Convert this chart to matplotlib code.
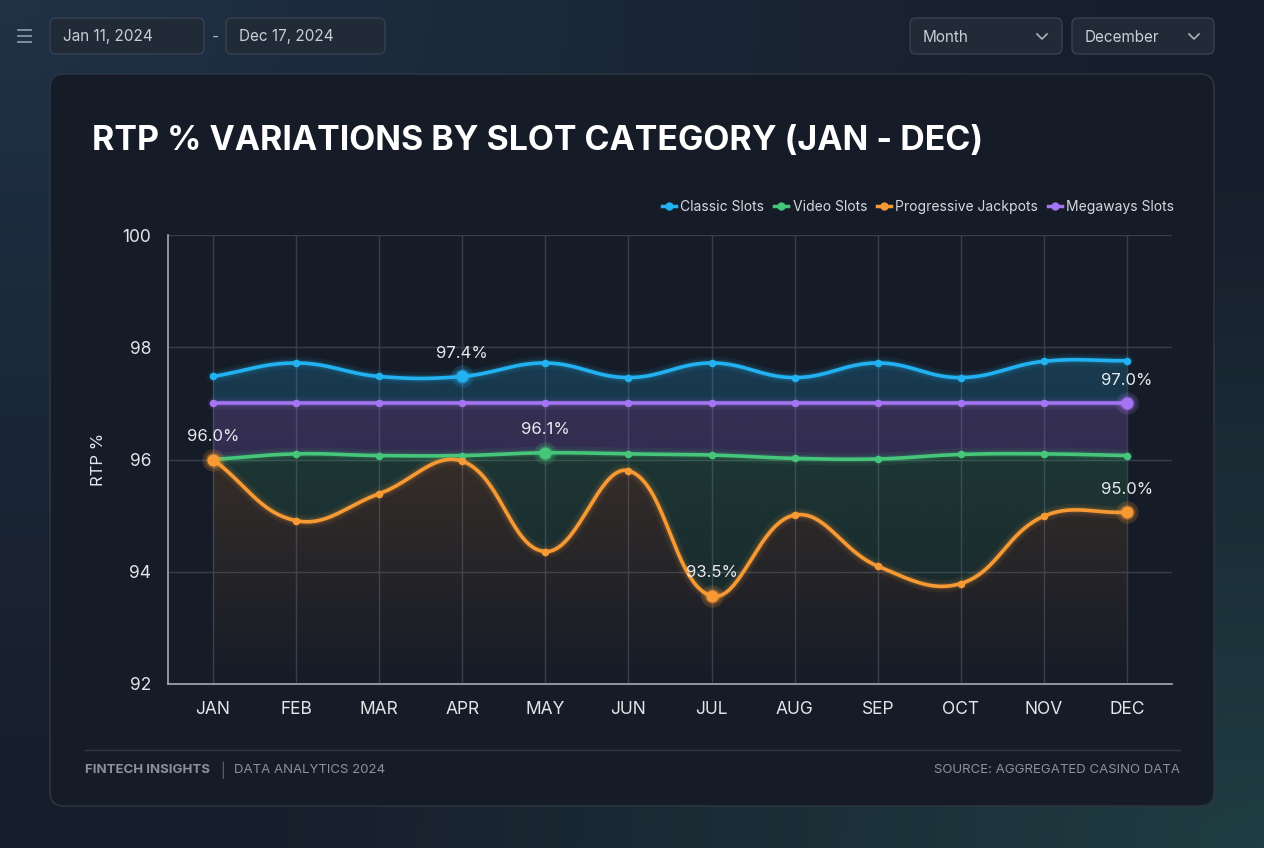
import matplotlib.pyplot as plt
import numpy as np
from matplotlib.patches import FancyBboxPatch, Polygon
from matplotlib.lines import Line2D
from matplotlib.colors import to_rgb

# Data
months = ['JAN', 'FEB', 'MAR', 'APR', 'MAY', 'JUN', 'JUL', 'AUG', 'SEP', 'OCT', 'NOV', 'DEC']
classic = [97.48, 97.72, 97.48, 97.48, 97.72, 97.46, 97.72, 97.46, 97.72, 97.46, 97.75, 97.76]
megaways = [97.0, 97.0, 97.0, 97.0, 97.0, 97.0, 97.0, 97.0, 97.0, 97.0, 97.0, 97.0]
video = [96.0, 96.1, 96.07, 96.07, 96.12, 96.1, 96.08, 96.02, 96.01, 96.09, 96.1, 96.07]
progressive = [96.0, 94.91, 95.39, 95.97, 94.36, 95.8, 93.57, 95.01, 94.1, 93.79, 94.99, 95.06]

series_names = ['Classic Slots', 'Video Slots', 'Progressive Jackpots', 'Megaways Slots']
colors = {'Classic Slots': '#22b2f2', 'Video Slots': '#45c67a',
          'Progressive Jackpots': '#f89a34', 'Megaways Slots': '#a474f2'}

# highlighted points: (series, month index, label)
highlights = [('Classic Slots', 3, '97.4%'), ('Progressive Jackpots', 0, '96.0%'),
              ('Video Slots', 4, '96.1%'), ('Progressive Jackpots', 6, '93.5%'),
              ('Megaways Slots', 11, '97.0%'), ('Progressive Jackpots', 11, '95.0%')]

FONT = 'Inter'
W, H = 1264, 848
fig = plt.figure(figsize=(W / 100, H / 100), dpi=100)

# background (pixel coordinates)
bg = fig.add_axes([0, 0, 1, 1])
bg.set_xlim(0, W)
bg.set_ylim(H, 0)
bg.axis('off')
yy, xx = np.mgrid[0:1:120j, 0:1:180j]
c_base = np.array(to_rgb('#171e2b'))
c_tl = np.array(to_rgb('#1f3246'))
c_br = np.array(to_rgb('#1f3d42'))
w_tl = np.clip(1 - np.hypot(xx, yy) / 0.9, 0, 1)[..., None]
w_br = np.clip(1 - np.hypot(1 - xx, 1 - yy) / 0.8, 0, 1)[..., None]
img = c_base + (c_tl - c_base) * w_tl + (c_br - c_base) * w_br
bg.imshow(img, extent=(0, W, H, 0), aspect='auto', zorder=0)

# card
bg.add_patch(FancyBboxPatch((50, 74), 1164, 732, boxstyle='round,pad=0,rounding_size=14',
                            facecolor='#161c27', edgecolor='#2b3442', linewidth=1.2, zorder=1))

# top controls
for yl in (30, 36, 42):
    bg.plot([18, 31], [yl, yl], color='#8a95a5', lw=1.3, zorder=2)
boxes = [(50, 204, 'Jan 11, 2024', False), (226, 385, 'Dec 17, 2024', False),
         (910, 1062, 'Month', True), (1072, 1214, 'December', True)]
for x0, x1, txt, chev in boxes:
    bg.add_patch(FancyBboxPatch((x0, 18), x1 - x0, 36, boxstyle='round,pad=0,rounding_size=6',
                                facecolor='#212a37', edgecolor='#374151', linewidth=1, zorder=2))
    bg.text(x0 + 13, 37, txt, color='#c9ced6', fontsize=11, family=FONT, va='center', zorder=3)
    if chev:
        cx = x1 - 20
        bg.plot([cx - 5, cx, cx + 5], [34, 39, 34], color='#aab2bd', lw=1.2, zorder=3)
bg.text(215, 37, '-', color='#aab2bd', fontsize=11, family=FONT, va='center', ha='center')

# title
bg.text(92, 141, 'RTP % VARIATIONS BY SLOT CATEGORY (JAN - DEC)', color='white',
        fontsize=24.4, fontweight='bold', family=FONT, va='center', zorder=3)

# footer
bg.plot([85, 1180], [750, 750], color='#2c3544', lw=1, zorder=2)
bg.text(85, 770, 'FINTECH INSIGHTS', color='#8a929e', fontsize=9.5, fontweight='bold',
        family=FONT, va='center')
bg.text(223, 770, '|', color='#5d6572', fontsize=10, family=FONT, va='center', ha='center')
bg.text(234, 770, 'DATA ANALYTICS 2024', color='#8a929e', fontsize=9.5, family=FONT, va='center')
bg.text(1180, 770, 'SOURCE: AGGREGATED CASINO DATA', color='#8a929e', fontsize=9.5,
        family=FONT, va='center', ha='right')

# chart axes
ax = fig.add_axes([168 / W, 1 - 684 / H, (1172 - 168) / W, (684 - 235) / H])
ax.set_facecolor('none')
XL = (-0.5416, 11.5416)
YL = (92, 100)
ax.set_xlim(*XL)
ax.set_ylim(*YL)


def smooth(xs, ys, t=0.4, n=40):
    P = ax.transData.transform(np.column_stack([xs, ys]))
    m = len(P)
    cin = np.zeros_like(P)
    cout = np.zeros_like(P)
    for i in range(m):
        p0, p1, p2 = P[max(i - 1, 0)], P[i], P[min(i + 1, m - 1)]
        d01 = np.hypot(*(p1 - p0))
        d12 = np.hypot(*(p2 - p1))
        tot = d01 + d12
        s01 = d01 / tot if tot else 0
        s12 = d12 / tot if tot else 0
        cin[i] = p1 - t * s01 * (p2 - p0)
        cout[i] = p1 + t * s12 * (p2 - p0)
    u = np.linspace(0, 1, n)[:, None]
    segs = []
    for i in range(m - 1):
        a, b, c, d = P[i], cout[i], cin[i + 1], P[i + 1]
        pts = (1 - u) ** 3 * a + 3 * (1 - u) ** 2 * u * b + 3 * (1 - u) * u ** 2 * c + u ** 3 * d
        segs.append(pts if i == 0 else pts[1:])
    return ax.transData.inverted().transform(np.vstack(segs))


def grad_fill(xg, top, bottom, color, a_top, a_bot, z):
    verts = np.concatenate([np.column_stack([xg, top]), np.column_stack([xg[::-1], bottom[::-1]])])
    poly = Polygon(verts, closed=True, facecolor='none', edgecolor='none')
    ax.add_patch(poly)
    grad = np.zeros((256, 1, 4))
    grad[:, :, :3] = to_rgb(color)
    grad[:, 0, 3] = np.linspace(a_top, a_bot, 256)
    y_top = top.max()
    im = ax.imshow(grad, extent=(xg.min(), xg.max(), YL[0], y_top), origin='upper',
                   aspect='auto', zorder=z, interpolation='bilinear')
    im.set_clip_path(poly)


x = np.arange(len(months))
data = {'Classic Slots': classic, 'Video Slots': video,
        'Progressive Jackpots': progressive, 'Megaways Slots': megaways}
xg = np.linspace(0, 11, 1101)
curves = {}
for name in series_names:
    c = smooth(x, data[name])
    curves[name] = (c, np.interp(xg, c[:, 0], c[:, 1]))

floor = np.full_like(xg, YL[0])
grad_fill(xg, curves['Classic Slots'][1], curves['Megaways Slots'][1], colors['Classic Slots'], 0.2, 0.14, 1)
grad_fill(xg, curves['Megaways Slots'][1], curves['Video Slots'][1], colors['Megaways Slots'], 0.22, 0.14, 1)
grad_fill(xg, curves['Video Slots'][1], curves['Progressive Jackpots'][1], colors['Video Slots'], 0.16, 0.04, 1)
grad_fill(xg, curves['Progressive Jackpots'][1], floor, colors['Progressive Jackpots'], 0.14, 0.0, 1)

for name in series_names:
    c = curves[name][0]
    col = colors[name]
    ax.plot(c[:, 0], c[:, 1], color=col, lw=9, alpha=0.08, solid_capstyle='round', zorder=3)
    ax.plot(c[:, 0], c[:, 1], color=col, lw=5, alpha=0.15, solid_capstyle='round', zorder=3)
    ax.plot(c[:, 0], c[:, 1], color=col, lw=2.6, zorder=4)
    ax.scatter(x, data[name], s=30, color=col, zorder=5, linewidths=0)

for name, i, txt in highlights:
    col = colors[name]
    v = data[name][i]
    ax.scatter([i], [v], s=260, color=col, alpha=0.18, linewidths=0, zorder=5)
    ax.scatter([i], [v], s=130, color=col, alpha=0.3, linewidths=0, zorder=5)
    ax.scatter([i], [v], s=75, color=col, linewidths=0, zorder=6)
    ax.annotate(txt, (i, v), xytext=(0, 16.5), textcoords='offset points', ha='center',
                va='center', color='#e8eaee', fontsize=12, family=FONT, zorder=7)

# grid, spines, ticks
ax.set_xticks(x)
ax.set_xticklabels(months)
ax.set_yticks([92, 94, 96, 98, 100])
ax.grid(True, color='#3a4250', lw=1, alpha=0.9, zorder=0)
ax.set_axisbelow(True)
for s in ('top', 'right'):
    ax.spines[s].set_visible(False)
for s in ('left', 'bottom'):
    ax.spines[s].set_color('#a3aab5')
    ax.spines[s].set_linewidth(1.2)
ax.tick_params(length=0, colors='#e2e5ea', labelsize=12.5, pad=12)
for lab in ax.get_xticklabels() + ax.get_yticklabels():
    lab.set_family(FONT)
ax.set_ylabel('RTP %', color='#e2e5ea', fontsize=12, family=FONT, labelpad=12)
ax.set_xlim(*XL)
ax.set_ylim(*YL)

# legend
handles = [Line2D([0], [0], color=colors[n], lw=2.5, marker='o', markersize=5) for n in series_names]
leg = fig.legend(handles, series_names, loc='center right', bbox_to_anchor=(1174 / W, 1 - 207 / H),
                 ncol=4, frameon=False, handlelength=1.0, handletextpad=0.32,
                 columnspacing=0.7, borderpad=0, borderaxespad=0, prop={'family': FONT, 'size': 10})
for t in leg.get_texts():
    t.set_color('#d4d8de')

plt.savefig('out.png', dpi=100)
